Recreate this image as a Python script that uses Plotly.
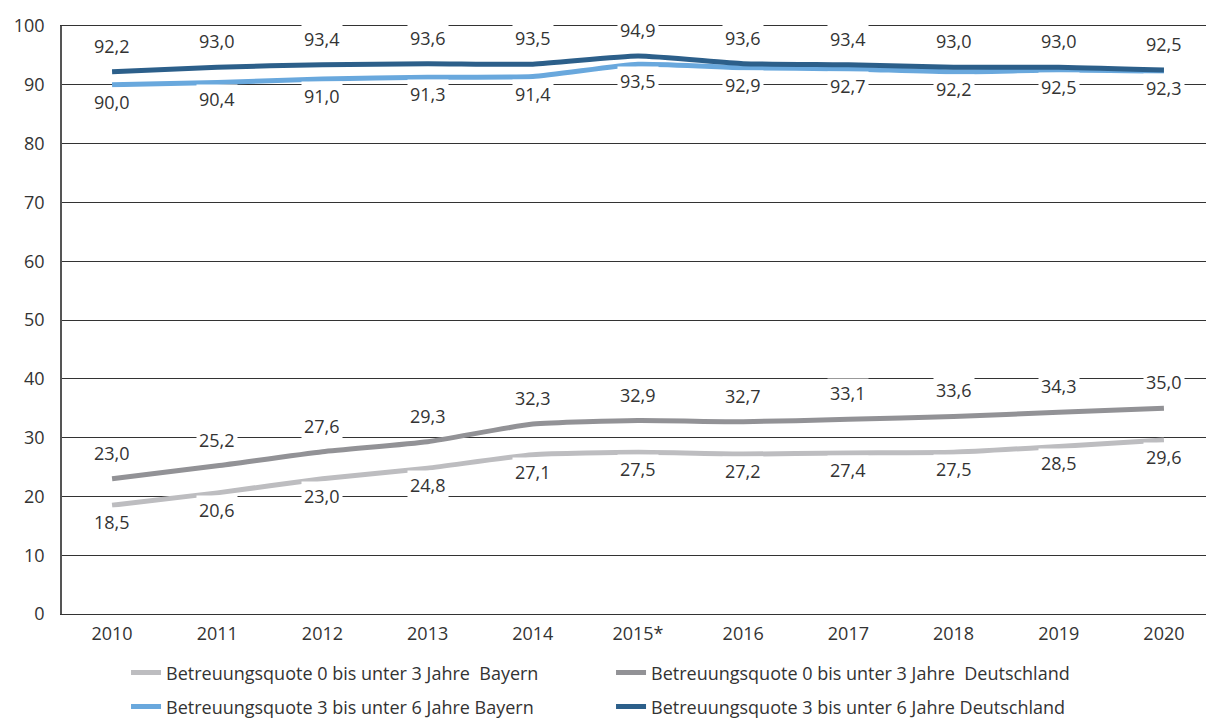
import plotly.graph_objects as go

years = ["2010", "2011", "2012", "2013", "2014", "2015*", "2016", "2017", "2018", "2019", "2020"]
by_0_3 = [18.5, 20.6, 23.0, 24.8, 27.1, 27.5, 27.2, 27.4, 27.5, 28.5, 29.6]
de_0_3 = [23.0, 25.2, 27.6, 29.3, 32.3, 32.9, 32.7, 33.1, 33.6, 34.3, 35.0]
by_3_6 = [90.0, 90.4, 91.0, 91.3, 91.4, 93.5, 92.9, 92.7, 92.2, 92.5, 92.3]
de_3_6 = [92.2, 93.0, 93.4, 93.6, 93.5, 94.9, 93.6, 93.4, 93.0, 93.0, 92.5]

names = [
    "Betreuungsquote 0 bis unter 3 Jahre  Bayern",
    "Betreuungsquote 0 bis unter 3 Jahre  Deutschland",
    "Betreuungsquote 3 bis unter 6 Jahre Bayern",
    "Betreuungsquote 3 bis unter 6 Jahre Deutschland",
]
colors = ["#BDBDC0", "#929296", "#69A8DD", "#2C5F8A"]
series = [by_0_3, de_0_3, by_3_6, de_3_6]
label_side = [-1, 1, -1, 1]  # below / above the line
legends = ["legend", "legend", "legend2", "legend2"]

FONT = "Open Sans"
FS = 18
TXT = "#333333"

fig = go.Figure()
for name, col, vals, lg in zip(names, colors, series, legends):
    fig.add_trace(go.Scatter(
        x=years, y=vals, name=name, mode="lines",
        line=dict(color=col, width=5, shape="spline", smoothing=0.5),
        legend=lg,
    ))

annotations = []
for vals, side in zip(series, label_side):
    for i, v in enumerate(vals):
        annotations.append(dict(
            x=i, y=v, xref="x", yref="y",
            text=f"{v:.1f}".replace(".", ","),
            showarrow=False,
            yshift=26 if side > 0 else -17,
            font=dict(family=FONT, size=FS, color=TXT),
            bgcolor="white", borderpad=2,
        ))

leg_common = dict(orientation="h", xref="container", yref="container",
                  x=0.1045, xanchor="left", yanchor="middle", entrywidth=440,
                  font=dict(family=FONT, size=FS, color=TXT),
                  bgcolor="rgba(0,0,0,0)")

fig.update_layout(
    width=1206, height=722,
    margin=dict(l=62, r=0, t=26, b=108, autoexpand=False),
    paper_bgcolor="white", plot_bgcolor="white",
    font=dict(family=FONT, size=FS, color=TXT),
    annotations=annotations,
    showlegend=True,
    legend=dict(y=0.068, **leg_common),
    legend2=dict(y=0.021, **leg_common),
    xaxis=dict(type="category", range=[-0.476, 10.4], showgrid=False,
               showline=True, mirror=True, linecolor="#333333", linewidth=1,
               ticks="outside", ticklen=3, tickcolor="rgba(0,0,0,0)",
               tickfont=dict(family=FONT, size=FS, color=TXT), zeroline=False),
    yaxis=dict(range=[0, 100], dtick=10, showgrid=True, gridcolor="#333333", gridwidth=1,
               showline=True, linecolor="#555555", linewidth=1.5, zeroline=False,
               ticks="outside", ticklen=12, tickcolor="rgba(0,0,0,0)",
               tickfont=dict(family=FONT, size=FS, color=TXT)),
)

fig.write_html("out.html")
